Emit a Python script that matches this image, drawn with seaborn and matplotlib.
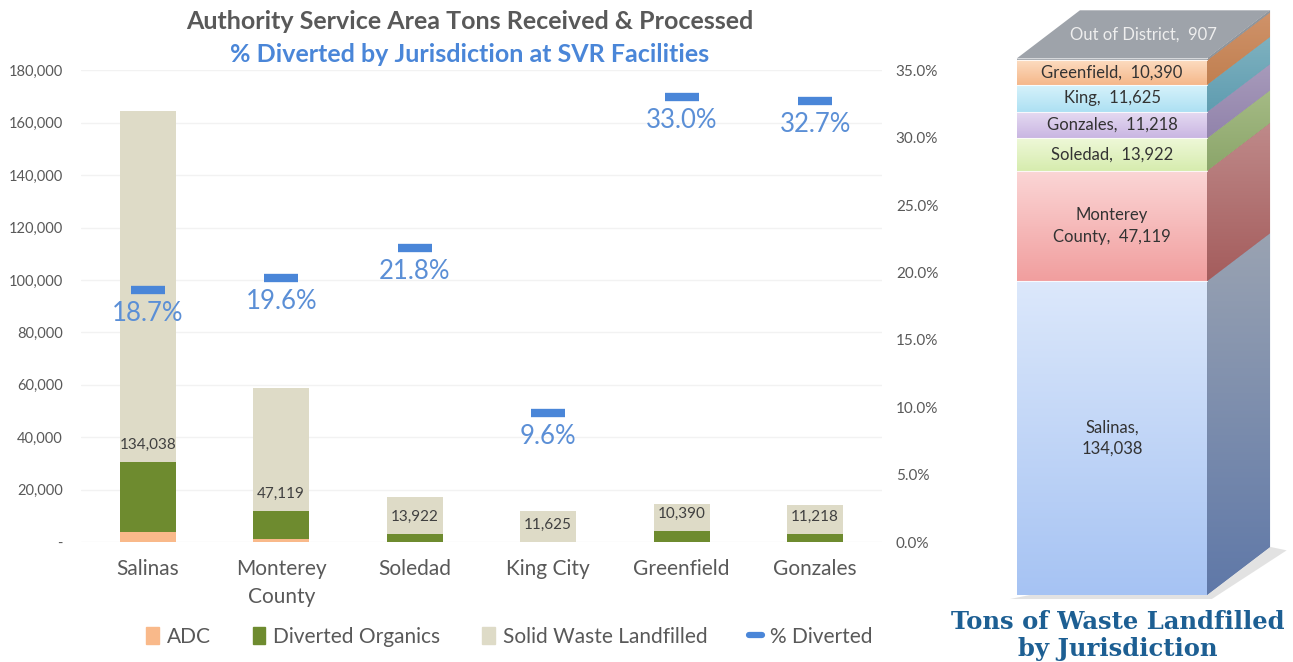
import numpy as np
import pandas as pd
import matplotlib
matplotlib.use("Agg")
import matplotlib.pyplot as plt
import seaborn as sns
from matplotlib.patches import Patch, Polygon
from matplotlib.lines import Line2D
from matplotlib.ticker import FuncFormatter, PercentFormatter
from matplotlib.colors import LinearSegmentedColormap

# data
jurisdictions = ["Salinas", "Monterey\nCounty", "Soledad", "King City", "Greenfield", "Gonzales"]
adc = [3800, 1300, 200, 0, 100, 100]
organics = [26700, 10500, 3000, 200, 4100, 3000]
landfilled = [134038, 47119, 13922, 11625, 10390, 11218]
pct_diverted = [18.7, 19.6, 21.8, 9.6, 33.0, 32.7]

stack_names = ["Salinas", "Monterey\nCounty", "Soledad", "Gonzales", "King", "Greenfield", "Out of District"]
stack_tons = [134038, 47119, 13922, 11218, 11625, 10390, 907]

C_ADC, C_ORG, C_LF, C_PCT = "#f9b98a", "#6e8b2f", "#dedbc7", "#4a86d8"
GREY = "#595959"

df = pd.DataFrame({"jur": jurisdictions, "adc": adc, "org": organics, "lf": landfilled, "pct": pct_diverted})
df["div"] = df["adc"] + df["org"]
df["total"] = df["div"] + df["lf"]

sns.set_theme(style="white")
plt.rcParams["font.family"] = ["Lato", "DejaVu Sans"]

fig = plt.figure(figsize=(12.93, 6.62), dpi=100)
ax = fig.add_axes([0.0626, 0.181, 0.6195, 0.713])

# stacked bars: draw cumulative totals from the top down
for col, c in [("total", C_LF), ("div", C_ORG), ("adc", C_ADC)]:
    sns.barplot(data=df, x="jur", y=col, color=c, saturation=1, width=0.42,
                errorbar=None, linewidth=0, ax=ax)

ax.set_xlim(-0.5, 5.5)
ax.set_ylim(0, 180000)
ax.set_yticks(range(0, 180001, 20000))
ax.yaxis.set_major_formatter(FuncFormatter(lambda v, p: "-" if v == 0 else f"{v:,.0f}"))
ax.set_xlabel("")
ax.set_ylabel("")
ax.tick_params(axis="x", length=0, labelsize=15, pad=12, colors=GREY)
ax.tick_params(axis="y", length=0, labelsize=10.5, pad=13, colors=GREY)
for t in ax.get_xticklabels():
    t.set_linespacing(1.5)
sns.despine(ax=ax, left=True, bottom=True)
ax.yaxis.grid(True, color="#f2f2f2", lw=1)
ax.set_axisbelow(True)

for i, row in df.iterrows():
    ax.text(i, row["div"] + 6500, f"{row['lf']:,}", ha="center", va="center",
            fontsize=11, color="#404040")

ax2 = ax.twinx()
sns.scatterplot(x=np.arange(len(df)), y=df["pct"], marker="_", s=580, linewidth=6,
                color=C_PCT, ax=ax2, legend=False, zorder=5)
ax2.set_ylim(0, 35)
ax2.set_yticks(range(0, 36, 5))
ax2.yaxis.set_major_formatter(PercentFormatter(decimals=1))
ax2.set_ylabel("")
ax2.grid(False)
ax2.tick_params(axis="y", length=0, labelsize=11, pad=10, colors=GREY)
for s in ax2.spines.values():
    s.set_visible(False)
for i, p in enumerate(df["pct"]):
    ax2.annotate(f"{p:.1f}%", (i, p), xytext=(0, -17), textcoords="offset points",
                 ha="center", va="center", fontsize=18.5, color="#5b8fd6")

fig.text(0.3635, 0.967, "Authority Service Area Tons Received & Processed", ha="center", va="center",
         fontsize=18, weight="bold", color=GREY)
fig.text(0.3635, 0.918, "% Diverted by Jurisdiction at SVR Facilities", ha="center", va="center",
         fontsize=18, weight="bold", color=C_PCT)

handles = [Patch(color=C_ADC), Patch(color=C_ORG), Patch(color=C_LF),
           Line2D([], [], color=C_PCT, lw=4.5, solid_capstyle="round")]
fig.legend(handles, ["ADC", "Diverted Organics", "Solid Waste Landfilled", "% Diverted"],
           loc="center", bbox_to_anchor=(0.394, 0.038), ncol=4, frameon=False, fontsize=15,
           handlelength=0.6, handleheight=0.9, columnspacing=2.0, handletextpad=0.4,
           labelcolor=GREY)

# ---- 3D style stacked column ----
front_cols = [("#dce8fb", "#a6c3f3"), ("#fbd6d6", "#f19e9e"), ("#eef8d8", "#d6ecae"),
              ("#e6dbf2", "#c9b6e2"), ("#d8f3fb", "#ade0f3"), ("#fcdcc0", "#f5b78a"),
              ("#a3a8ae", "#a3a8ae")]
side_cols = [("#9aa3b2", "#5f78a8"), ("#bf8a8a", "#a45c5c"), ("#a5bb85", "#8ba56a"),
             ("#a89bbb", "#9183ab"), ("#7fb2c0", "#5f9cb0"), ("#d0936a", "#c07f50"),
             ("#8f959c", "#8f959c")]

ax3 = fig.add_axes([0.7773, 0.0937, 0.2204, 0.8988])
ax3.axis("off")
half, dx, dy = 0.4, 0.265, 20500
bottoms = np.concatenate([[0], np.cumsum(stack_tons)[:-1]])
top_total = float(np.sum(stack_tons))


def grad(ax_, clip, extent, c_top, c_bot, z):
    cmap = LinearSegmentedColormap.from_list("g", [c_bot, c_top])
    im = ax_.imshow(np.linspace(0, 1, 256).reshape(-1, 1), extent=extent, origin="lower",
                    cmap=cmap, aspect="auto", zorder=z)
    im.set_clip_path(clip)


shadow = Polygon([(-half - 0.03, -1800), (half + 0.02, -1800), (half + dx + 0.07, dy - 1500),
                  (half + dx, dy)], closed=True, color="#d0d0d0", alpha=0.6, lw=0, zorder=1)
ax3.add_patch(shadow)

for i, (name, val) in enumerate(zip(stack_names, stack_tons)):
    b = bottoms[i]
    bar = ax3.bar(0, val, bottom=b, width=2 * half, color=front_cols[i][1], lw=0, zorder=2)[0]
    grad(ax3, bar, (-half, half, b, b + val), front_cols[i][0], front_cols[i][1], 2)
    side = Polygon([(half, b), (half + dx, b + dy), (half + dx, b + val + dy), (half, b + val)],
                   closed=True, color=side_cols[i][1], lw=0, zorder=2)
    ax3.add_patch(side)
    grad(ax3, side, (half, half + dx, b, b + val + dy), side_cols[i][0], side_cols[i][1], 2)
    ax3.plot([-half, half], [b + val, b + val], color="white", lw=0.8, alpha=0.8, zorder=3)

top = Polygon([(-half, top_total), (-half + dx, top_total + dy), (half + dx, top_total + dy),
               (half, top_total)], closed=True, color="#9ea3aa", lw=0, zorder=3)
ax3.add_patch(top)

for i, (name, val) in enumerate(zip(stack_names, stack_tons)):
    b = bottoms[i]
    if name == "Out of District":
        ax3.text(dx / 2, top_total + dy / 2, f"{name},  {val:,}", ha="center", va="center",
                 fontsize=12, color="#eeeeee", zorder=4)
        continue
    sep = ",\n" if val > 100000 else ",  "
    ax3.text(0, b + val / 2, f"{name}{sep}{val:,}", ha="center", va="center", fontsize=12,
             color="#333333", zorder=4, linespacing=1.4)

ax3.set_xlim(-0.45, 0.749)
ax3.set_ylim(-2200, 252000)

fig.text(0.8647, 0.040, "Tons of Waste Landfilled\nby Jurisdiction", ha="center", va="center",
         family="DejaVu Serif", weight="bold", fontsize=17.5, color="#1d5f93", linespacing=1.15)

fig.savefig("out.png", dpi=100)
